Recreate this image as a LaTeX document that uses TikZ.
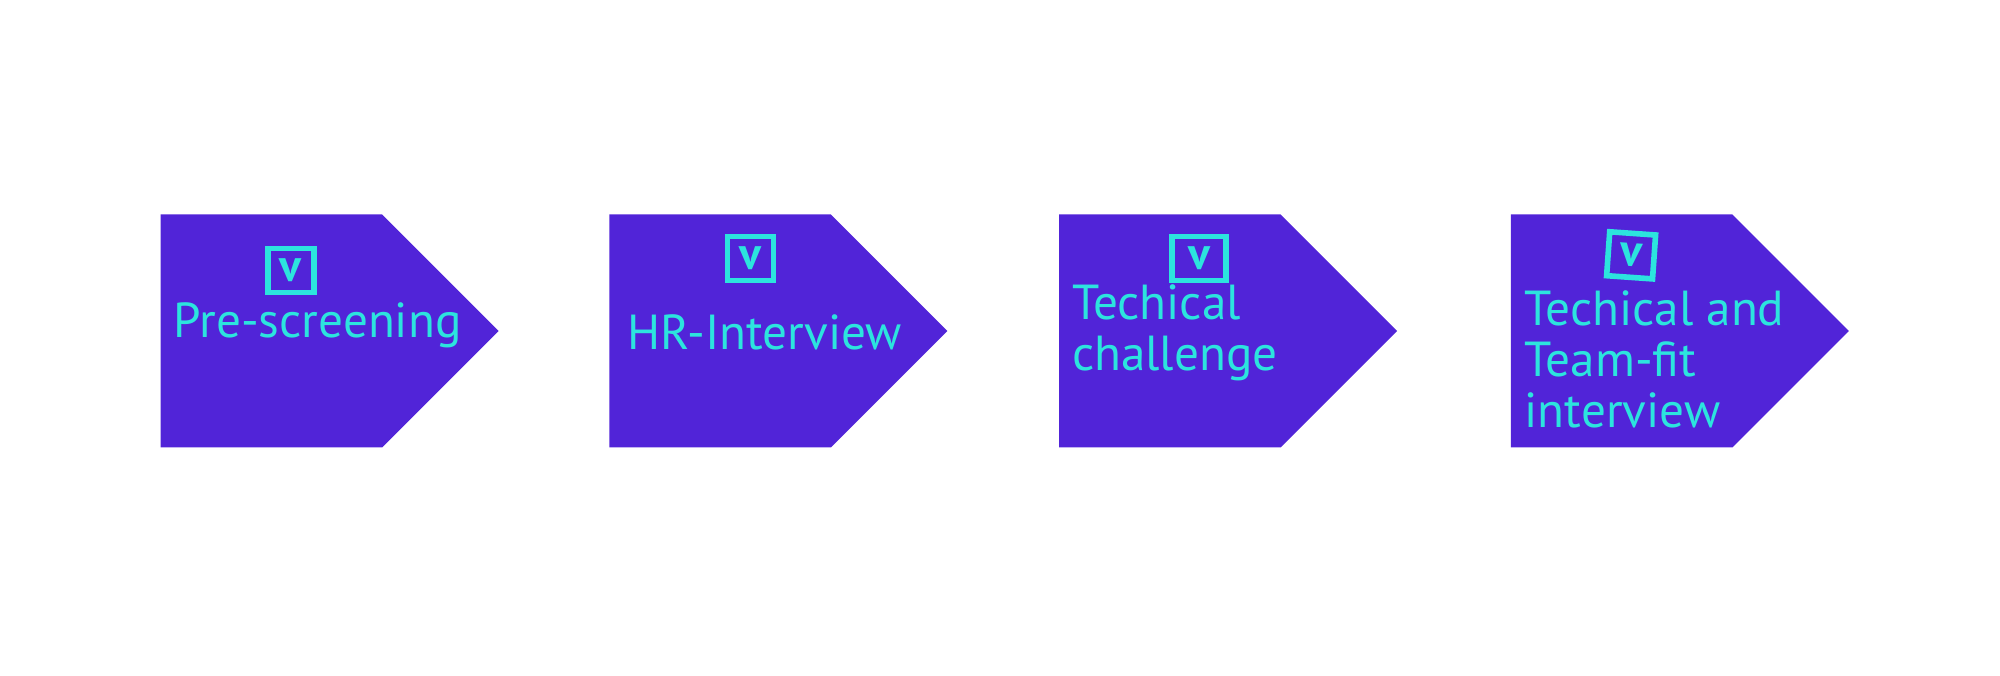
\documentclass[tikz,border=0pt]{standalone}
\usepackage{fontspec}
\setmainfont{PT Sans}
\usetikzlibrary{positioning,shapes.symbols}
\definecolor{tagpurple}{RGB}{81,36,216}
\definecolor{inkcyan}{RGB}{44,228,222}
\begin{document}
\begin{tikzpicture}[
    tag/.style={signal, signal to=east, signal pointer angle=90,
      fill=tagpurple, minimum width=3.38cm, minimum height=2.33cm,
      inner sep=0pt},
    tick/.style={draw=inkcyan, line width=1.6pt, text=inkcyan,
      minimum width=4.6mm, minimum height=4.4mm, inner sep=0pt,
      font=\bfseries\fontsize{13}{13}\selectfont},
    label/.style={text=inkcyan, align=left, inner sep=0pt,
      font=\fontsize{14}{14.5}\selectfont}]
  \useasboundingbox (0,0) rectangle (20,6.75);
  \node[tag, anchor=west] (tag1) at (1.60,3.44) {};
  \node[tag, right=1.09cm of tag1] (tag2) {};
  \node[tag, right=1.10cm of tag2] (tag3) {};
  \node[tag, right=1.12cm of tag3] (tag4) {};
  % check boxes
  \node[tick, below right=0.32cm and 1.05cm of tag1.north west] (chk1) {v};
  \node[tick, below right=0.20cm and 1.16cm of tag2.north west] (chk2) {v};
  \node[tick, minimum width=5.4mm, below right=0.20cm and 1.11cm of tag3.north west] (chk3) {v};
  \node[tick, rotate=-4, below right=0.15cm and 0.97cm of tag4.north west] (chk4) {v};
  % step names
  \node[label, below right=0.88cm and 0.13cm of tag1.north west] (step1) {Pre-screening};
  \node[label, below right=1.00cm and 0.18cm of tag2.north west] (step2) {HR-Interview};
  \node[label, below right=0.70cm and 0.13cm of tag3.north west] (step3) {Techical\\challenge};
  \node[label, below right=0.76cm and 0.14cm of tag4.north west] (step4) {Techical and\\Team-fit\\interview};
\end{tikzpicture}
\end{document}
